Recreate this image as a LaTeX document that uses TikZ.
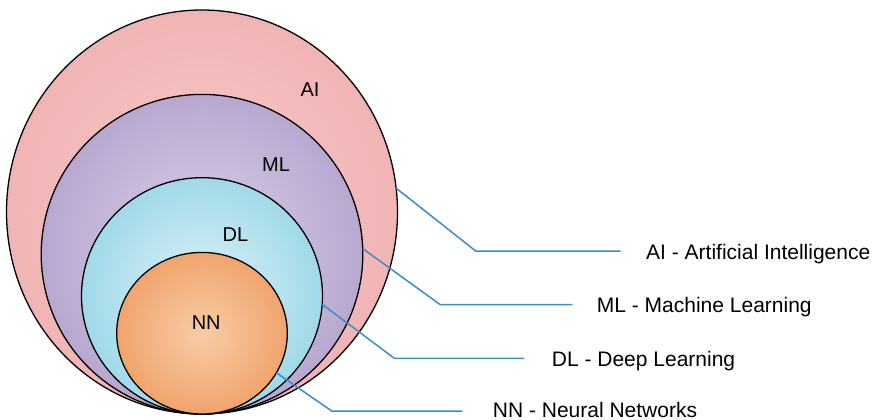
\documentclass[tikz,border=0pt]{standalone}
\usepackage{fontspec}
\setmainfont{Liberation Sans}
\usetikzlibrary{shapes.geometric}
\definecolor{aiout}{HTML}{F1B4B5}
\definecolor{aiin}{HTML}{F7CBCB}
\definecolor{mlout}{HTML}{B8A8D0}
\definecolor{mlin}{HTML}{DCD2E8}
\definecolor{dlout}{HTML}{A0D9E8}
\definecolor{dlin}{HTML}{DFF3F8}
\definecolor{nnout}{HTML}{F0A46C}
\definecolor{nnin}{HTML}{F8CCA6}
\definecolor{connblue}{HTML}{3B8DC5}
\begin{document}
\begin{tikzpicture}[x=1pt,y=-1pt,
  ring/.style={ellipse, draw=black, line width=1.3pt, inner sep=0pt, outer sep=0pt},
  conn/.style={draw=connblue, line width=1.5pt},
  tag/.style={font=\fontsize{20}{24}\selectfont, inner sep=0pt, anchor=base},
  legend/.style={font=\fontsize{21}{25}\selectfont, inner sep=0pt, anchor=base west}]
\useasboundingbox (0,0) rectangle (878,420);

% nested sets, all touching at the bottom
\node[ring, minimum width=391pt, minimum height=404pt, inner color=aiin, outer color=aiout] (ai) at (202,212) {};
\node[ring, minimum width=321.6pt, minimum height=319.6pt, inner color=mlin, outer color=mlout] (ml) at (202,254.2) {};
\node[ring, minimum width=241pt, minimum height=236.4pt, inner color=dlin, outer color=dlout] (dl) at (202,295.9) {};
\node[ring, minimum width=170.6pt, minimum height=161.6pt, inner color=nnin, outer color=nnout] (nn) at (202,333.2) {};

% set labels
\node[tag] (aitag) at (310,96.7) {AI};
\node[tag] (mltag) at (276,171.7) {ML};
\node[tag] (dltag) at (235.5,241.7) {DL};
\node[tag] (nntag) at (206.2,329.3) {NN};

% legend entries
\node[legend] (ailbl) at (646,259) {AI - Artificial Intelligence};
\node[legend] (mllbl) at (596.7,312.2) {ML - Machine Learning};
\node[legend] (dllbl) at (551.7,366) {DL - Deep Learning};
\node[legend] (nnlbl) at (492.7,417.3) {NN - Neural Networks};

% leader lines
\coordinate (aiB) at (475.7,251);
\coordinate (aiE) at (620.7,251);
\coordinate (mlB) at (440,304.5);
\coordinate (mlE) at (572.3,304.5);
\coordinate (dlB) at (394.3,358.3);
\coordinate (dlE) at (524,358.3);
\coordinate (nnB) at (331.7,411);
\coordinate (nnE) at (462.3,411);

\draw[conn] (ai.7.5) -- (aiB) -- (aiE);
\draw[conn] (ml.2.9) -- (mlB) -- (mlE);
\draw[conn] (dl.-4.3) -- (dlB) -- (dlE);
\draw[conn] (nn.-28) -- (nnB) -- (nnE);
\end{tikzpicture}
\end{document}
